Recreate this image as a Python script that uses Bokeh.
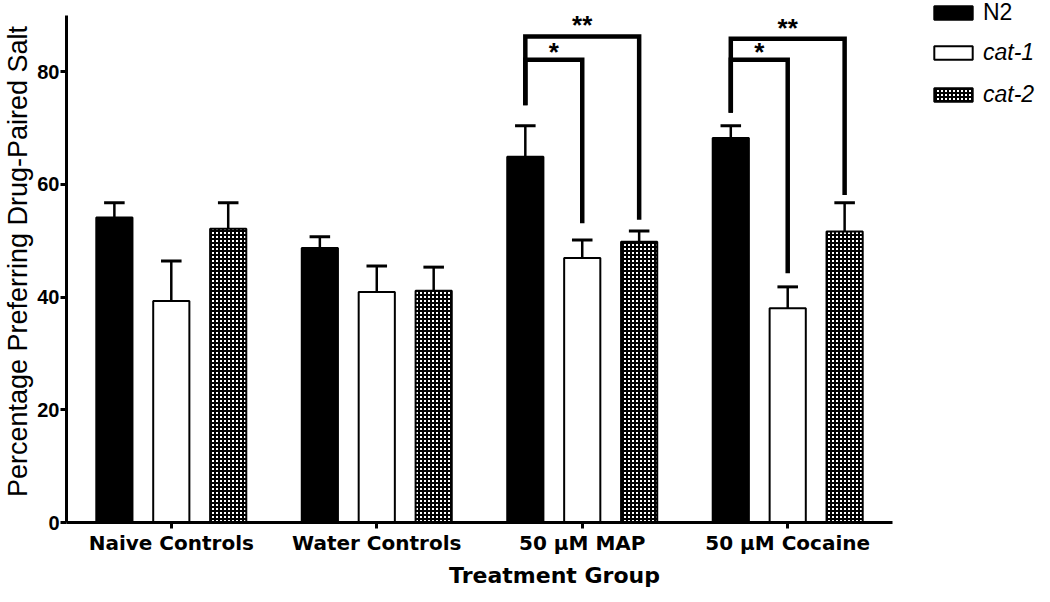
from bokeh.plotting import figure
from bokeh.models import Range1d, FixedTicker, Legend, LegendItem
from bokeh.core.properties import value
from bokeh.embed import file_html
from bokeh.resources import INLINE

groups = ["Naive Controls", "Water Controls", "50 μM MAP", "50 μM Cocaine"]
series = ["N2", "cat-1", "cat-2"]
n2 = [54.1, 48.7, 64.9, 68.2]
n2_err = [2.6, 2.0, 5.5, 2.2]
cat1 = [39.3, 40.9, 46.9, 38.0]
cat1_err = [7.1, 4.6, 3.2, 3.8]
cat2 = [52.1, 41.1, 49.8, 51.6]
cat2_err = [4.6, 4.2, 1.9, 5.1]
y_ticks = [0, 20, 40, 60, 80]

# significance brackets
sig_group = [2, 2, 3, 3]
sig_from = [0, 0, 0, 0]
sig_to = [2, 1, 2, 1]
sig_height = [86.2, 82.1, 85.8, 82.1]
sig_left_end = [74.0, 74.0, 72.7, 72.7]
sig_right_end = [53.7, 53.1, 58.1, 44.2]
sig_label = ["**", "*", "**", "*"]

FONT = "Liberation Sans"
XFONT = "DejaVu Sans"
offsets = [-0.277, 0.0, 0.277]
bar_w = 0.176

p = figure(width=1042, height=590, output_backend="svg", toolbar_location=None,
           x_range=Range1d(-0.51, 4.24), y_range=Range1d(0, 92.6),
           min_border_left=62, min_border_right=0, min_border_top=0, min_border_bottom=0)
p.outline_line_color = None
p.xgrid.visible = False
p.ygrid.visible = False

vals = [n2, cat1, cat2]
errs = [n2_err, cat1_err, cat2_err]
renderers = []
styles = [dict(fill_color="black"),
          dict(fill_color="white"),
          dict(fill_color="white", hatch_pattern="cross", hatch_color="black",
               hatch_scale=4, hatch_weight=2)]
for k in range(3):
    xs = [i + offsets[k] for i in range(len(groups))]
    tops = [v + e for v, e in zip(vals[k], errs[k])]
    p.segment(x0=xs, y0=vals[k], x1=xs, y1=tops, line_color="black", line_width=2.5)
    p.segment(x0=[x - 0.05 for x in xs], y0=tops, x1=[x + 0.05 for x in xs], y1=tops,
              line_color="black", line_width=3)
    r = p.vbar(x=xs, top=vals[k], bottom=0, width=bar_w, line_color="black",
               line_width=2, **styles[k])
    renderers.append(r)

for g, a, b, h, le, re_, lab in zip(sig_group, sig_from, sig_to, sig_height,
                                     sig_left_end, sig_right_end, sig_label):
    xa = g + offsets[a]
    xb = g + offsets[b]
    p.line(x=[xa, xa, xb, xb], y=[le, h, h, re_], line_color="black", line_width=4.5,
           line_join="miter")
    gap = 2.0 if len(lab) > 1 else 1.3
    p.text(x=[(xa + xb) / 2], y=[h + gap], text=[lab], text_align="center",
           text_baseline="alphabetic", text_font=value(FONT), text_font_size="26px",
           text_font_style="bold", text_color="black")

# axes
xa_ = p.xaxis[0]
xa_.bounds = (-0.51, 3.51)
xa_.ticker = FixedTicker(ticks=list(range(len(groups))))
xa_.major_label_overrides = {i: g for i, g in enumerate(groups)}
xa_.minor_tick_line_color = None
xa_.major_tick_in = 0
xa_.major_tick_out = 6
xa_.major_tick_line_width = 3
xa_.axis_line_width = 3
xa_.axis_line_color = "black"
xa_.major_tick_line_color = "black"
xa_.major_label_text_font = XFONT
xa_.major_label_text_font_size = "20px"
xa_.major_label_text_font_style = "bold"
xa_.major_label_text_color = "black"
xa_.major_label_standoff = 2
xa_.axis_label = "Treatment Group"
xa_.axis_label_text_font = XFONT
xa_.axis_label_text_font_size = "22px"
xa_.axis_label_text_font_style = "bold"
xa_.axis_label_text_color = "black"
xa_.axis_label_standoff = 5

ya = p.yaxis[0]
ya.bounds = (0, 90)
ya.ticker = FixedTicker(ticks=y_ticks)
ya.minor_tick_line_color = None
ya.major_tick_in = 0
ya.major_tick_out = 6
ya.major_tick_line_width = 3
ya.axis_line_width = 3
ya.axis_line_color = "black"
ya.major_tick_line_color = "black"
ya.major_label_text_font = FONT
ya.major_label_text_font_size = "20px"
ya.major_label_text_font_style = "bold"
ya.major_label_text_color = "black"
ya.major_label_standoff = 1
ya.axis_label = "Percentage Preferring Drug-Paired Salt"
ya.axis_label_text_font = FONT
ya.axis_label_text_font_size = "27px"
ya.axis_label_text_font_style = "normal"
ya.axis_label_text_color = "black"
ya.axis_label_standoff = 1

common = dict(glyph_width=48, glyph_height=17, label_height=27, spacing=15, padding=0,
              margin=0, label_standoff=6, border_line_color=None,
              background_fill_alpha=0, label_text_font=FONT, label_text_font_size="23px",
              label_text_color="black")
leg1 = Legend(items=[LegendItem(label=series[0], renderers=[renderers[0]])],
              location=(863, 496), label_text_font_style="normal", **common)
leg2 = Legend(items=[LegendItem(label=series[1], renderers=[renderers[1]]),
                     LegendItem(label=series[2], renderers=[renderers[2]])],
              location=(863, 414), label_text_font_style="italic", **common)
p.add_layout(leg1, "center")
p.add_layout(leg2, "center")

open("out.html", "w").write(file_html(p, INLINE))
